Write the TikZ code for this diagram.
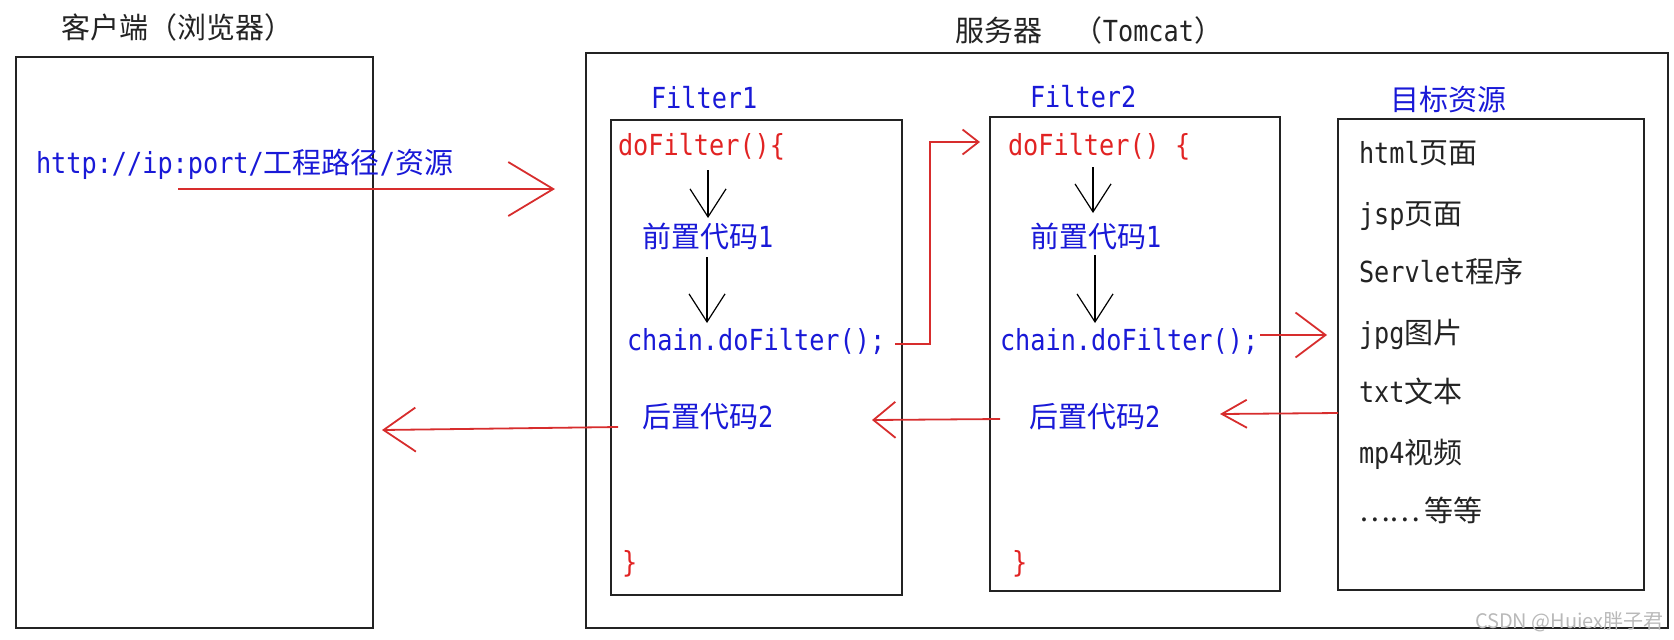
\documentclass[tikz,border=0pt]{standalone}
\usepackage{fontspec}
\setmainfont[FakeStretch=0.87]{DejaVu Sans Mono}
\newfontfamily\cjk{Noto Sans CJK SC}
\newfontfamily\wmfont{Noto Sans CJK SC}
\newcommand\C[1]{{\cjk #1}}
\usetikzlibrary{arrows.meta}
\definecolor{tblue}{RGB}{25,25,215}
\definecolor{tred}{RGB}{225,35,35}
\definecolor{lred}{RGB}{215,45,45}
\definecolor{tgray}{RGB}{185,185,185}
\definecolor{ink}{RGB}{35,35,35}
\tikzset{
  box/.style={draw=ink, line width=1pt, inner sep=0pt, outer sep=0pt, anchor=north west},
  txt/.style={inner sep=0pt, outer sep=0pt, anchor=base west},
  btxt/.style={txt, text=tblue},
  rtxt/.style={txt, text=tred},
  ktxt/.style={txt, text=ink},
  redline/.style={draw=lred, line width=0.9pt},
  dnarrow/.style={draw=black, line width=0.6pt, -{Straight Barb[length=14pt,width=18pt]}},
  bigtip/.style={-{Straight Barb[length=22.5pt,width=27pt]}},
}
\begin{document}
\begin{tikzpicture}[x=0.5pt, y=-0.5pt, font=\fontsize{14.5}{17}\selectfont]
\useasboundingbox (0,0) rectangle (1674,639);
% boxes
\node[box, minimum width=178.5pt, minimum height=285.5pt] (client) at (16,57) {};
\node[box, minimum width=541pt, minimum height=287.5pt] (server) at (586,53) {};
\node[box, minimum width=145.5pt, minimum height=237.5pt] (f1) at (611,120) {};
\node[box, minimum width=145pt, minimum height=237pt] (f2) at (990,117) {};
\node[box, minimum width=153pt, minimum height=235.5pt] (target) at (1338,119) {};
% titles
\node[ktxt] (t1) at (61,38) {\C{客户端（浏览器）}};
\node[ktxt] (t2) at (955,41) {\C{服务器}\hspace{1.1em}\C{（}Tomcat\C{）}};
\node[btxt] (url) at (36,173) {http://ip:port/\C{工程路径}/\C{资源}};
\node[btxt] (lf1) at (651,108) {Filter1};
\node[btxt] (lf2) at (1030,107) {Filter2};
\node[btxt] (lt) at (1390,110) {\C{目标资源}};
% filter1 contents
\node[rtxt] (d1) at (618,155) {doFilter()\{};
\node[btxt] (p1) at (642,247) {\C{前置代码}1};
\node[btxt] (c1) at (627,350) {chain.doFilter();};
\node[btxt] (h1) at (642,427) {\C{后置代码}2};
\node[rtxt] (e1) at (622,572) {\}};
% filter2 contents
\node[rtxt] (d2) at (1008,155) {doFilter() \{};
\node[btxt] (p2) at (1030,247) {\C{前置代码}1};
\node[btxt] (c2) at (1000,350) {chain.doFilter();};
\node[btxt] (h2) at (1029,427) {\C{后置代码}2};
\node[rtxt] (e2) at (1012,572) {\}};
% target items
\node[ktxt] (r1) at (1359,163) {html\C{页面}};
\node[ktxt] (r2) at (1359,224) {jsp\C{页面}};
\node[ktxt] (r3) at (1359,282) {Servlet\C{程序}};
\node[ktxt] (r4) at (1359,343) {jpg\C{图片}};
\node[ktxt] (r5) at (1359,402) {txt\C{文本}};
\node[ktxt] (r6) at (1359,463) {mp4\C{视频}};
\node[ktxt] (r7) at (1359,521) {\C{……}\hspace{0.15em}\C{等等}};
% watermark
\node[txt, text=tgray, font=\wmfont\fontsize{10}{12}\selectfont] (wm) at (1475,628) {CSDN @Huiex胖子君};
% coordinates for connectors
\coordinate (q0) at (178,189);
\coordinate (q1) at (555,189);
\coordinate (a1s) at (708,170); \coordinate (a1e) at (708,218);
\coordinate (a2s) at (707,257); \coordinate (a2e) at (707,323);
\coordinate (b1s) at (1093,167); \coordinate (b1e) at (1093,213);
\coordinate (b2s) at (1095,255); \coordinate (b2e) at (1095,323);
\coordinate (k0) at (895,344); \coordinate (k1) at (930,344);
\coordinate (k2) at (930,142); \coordinate (k3) at (980,142);
\coordinate (m0) at (1260,335); \coordinate (m1) at (1327,335);
\coordinate (n0) at (1338,413); \coordinate (n1) at (1220,414);
\coordinate (o0) at (1000,419); \coordinate (o1) at (872,420);
\coordinate (s0) at (618,427); \coordinate (s1) at (382,430);
% connectors
\draw[redline, bigtip] (q0) -- (q1);
\draw[dnarrow] (a1s) -- (a1e);
\draw[dnarrow] (a2s) -- (a2e);
\draw[dnarrow] (b1s) -- (b1e);
\draw[dnarrow] (b2s) -- (b2e);
\draw[redline, -{Straight Barb[length=8pt,width=12.5pt]}] (k0) -- (k1) -- (k2) -- (k3);
\draw[redline, -{Straight Barb[length=15pt,width=22.5pt]}] (m0) -- (m1);
\draw[redline, -{Straight Barb[length=12.5pt,width=14pt]}] (n0) -- (n1);
\draw[redline, -{Straight Barb[length=11pt,width=18pt]}] (o0) -- (o1);
\draw[redline, -{Straight Barb[length=16pt,width=22pt]}] (s0) -- (s1);
\end{tikzpicture}
\end{document}
